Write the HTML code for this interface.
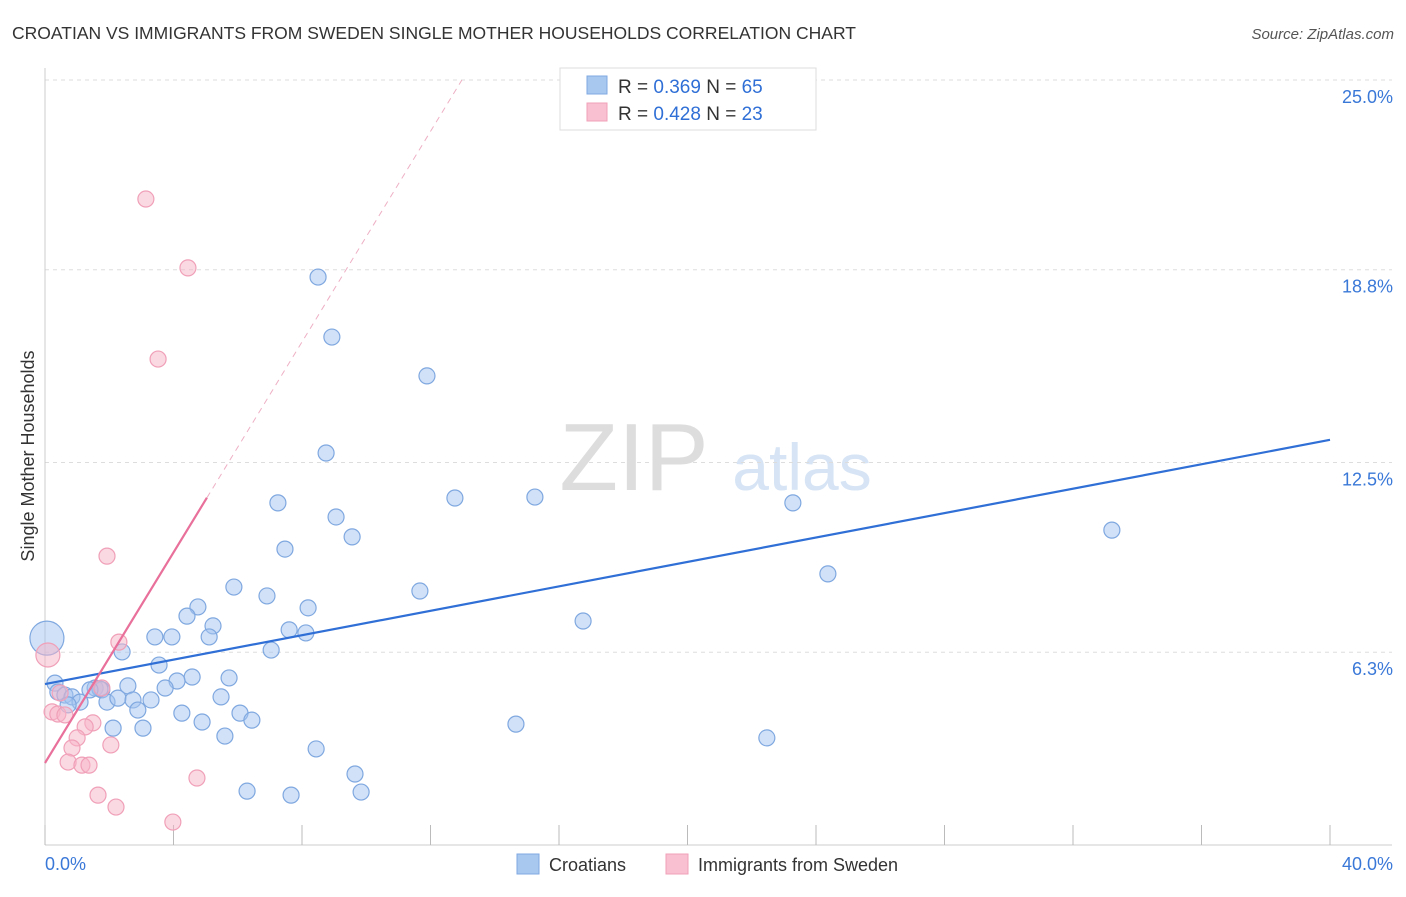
<!DOCTYPE html>
<html><head><meta charset="utf-8"><style>
body{margin:0;background:#fff;font-family:"Liberation Sans",sans-serif}
svg text{font-family:"Liberation Sans",sans-serif}
</style></head><body>
<svg id="chart" width="1406" height="892">
<text x="12" y="39" font-size="17.5" fill="#333">CROATIAN VS IMMIGRANTS FROM SWEDEN SINGLE MOTHER HOUSEHOLDS CORRELATION CHART</text>
<text x="1394" y="39" font-size="15" fill="#555" font-style="italic" text-anchor="end">Source: ZipAtlas.com</text>
<text x="634" y="490" font-size="96" fill="#ddd" font-family="Liberation Serif" text-anchor="middle">ZIP</text>
<text x="802" y="490" font-size="66" fill="#d6e4f5" text-anchor="middle">atlas</text>
<text transform="translate(34,456) rotate(-90)" font-size="18" fill="#333" text-anchor="middle">Single Mother Households</text>
<g id="grid"></g><g id="marks"></g>
<g>
<rect x="560" y="68" width="256" height="62" fill="#fff" stroke="#ddd"/>
<rect x="587" y="76" width="20" height="18" fill="#a9c8f0" stroke="#7fa8e0"/>
<rect x="587" y="103" width="20" height="18" fill="#f8c0d0" stroke="#f0a0b8"/>
<text x="618" y="93" font-size="19" fill="#333">R = <tspan fill="#2f6fd6">0.369</tspan>   N = <tspan fill="#2f6fd6">65</tspan></text>
<text x="618" y="120" font-size="19" fill="#333">R = <tspan fill="#2f6fd6">0.428</tspan>   N = <tspan fill="#2f6fd6">23</tspan></text>
</g>
<g>
<rect x="517" y="854" width="22" height="20" fill="#a9c8f0" stroke="#7fa8e0"/>
<text x="549" y="871" font-size="18" fill="#333">Croatians</text>
<rect x="666" y="854" width="22" height="20" fill="#f8c0d0" stroke="#f0a0b8"/>
<text x="698" y="871" font-size="18" fill="#333">Immigrants from Sweden</text>
</g>
</svg>
<script>
const xTicks=[0,4,8,12,16,20,24,28,32,36,40];
const yTicks=[6.3,12.5,18.8,25.0];
const blueX=[8.50,8.93,11.89,8.75,12.76,15.25,7.25,9.06,9.56,7.47,5.88,6.91,11.67,8.19,4.76,4.42,5.23,7.60,8.12,3.42,3.95,5.11,16.75,7.04,2.40,3.55,4.58,5.73,4.11,0.31,3.74,2.58,1.56,1.77,0.40,0.62,0.84,1.09,0.72,1.93,2.27,2.74,3.30,5.48,2.89,4.26,6.07,4.89,6.44,2.12,3.05,5.60,8.44,9.65,6.29,7.66,9.84,14.66,22.47,23.28,24.37,33.21,1.71,1.40];
const blueY=[18.56,16.60,15.33,12.81,11.34,11.37,11.18,10.72,10.07,9.67,8.43,8.14,8.30,7.75,7.78,7.48,7.16,7.03,6.93,6.80,6.80,6.80,7.32,6.37,6.31,5.88,5.49,5.46,5.36,5.29,5.13,5.20,5.13,5.07,5.00,4.90,4.84,4.67,4.58,4.67,4.80,4.74,4.74,4.84,4.41,4.31,4.31,4.02,4.08,3.82,3.82,3.56,3.14,2.32,1.76,1.63,1.73,3.95,3.50,11.18,8.86,10.29,5.10,5.07];
const pinkX=[3.14,4.45,3.52,1.93,2.30,1.77,0.47,0.22,0.40,0.62,1.49,1.25,1.00,0.84,2.05,0.72,1.15,1.37,1.65,2.21,3.98,4.73];
const pinkY=[21.11,18.86,15.88,9.44,6.63,5.13,4.97,4.35,4.28,4.25,3.99,3.86,3.50,3.17,3.27,2.71,2.61,2.61,1.63,1.24,0.75,2.19];
const bigBlue=[0.06,6.76];
const bigPink=[0.09,6.21];
const blueTrend=[5.26,13.24];
const pinkTrend=[2.68,1.72];
const X=v=>45+v*32.125, Y=v=>845-v*30.6;
const NS="http://www.w3.org/2000/svg";
const grid=document.getElementById('grid'), marks=document.getElementById('marks');
function mk(tag,attrs,parent){const e=document.createElementNS(NS,tag);for(const k in attrs)e.setAttribute(k,attrs[k]);parent.appendChild(e);return e;}
yTicks.forEach(t=>{
  const l=mk('line',{x1:45,x2:1392,y1:Y(t),y2:Y(t),stroke:'#ddd','stroke-dasharray':'4,4'},grid);
  
  
  const tx=mk('text',{x:1393,y:Y(t)+23,'font-size':18,fill:'#3a78d8','text-anchor':'end'},grid);
  tx.textContent=t.toFixed(1)+'%';
  
  
});
const ax=mk('line',{x1:45,x2:45,y1:68,y2:845,stroke:'#ccc'},grid);


const bx=mk('line',{x1:45,x2:1392,y1:845,y2:845,stroke:'#ccc'},grid);


xTicks.forEach(t=>{
  const l=mk('line',{x1:X(t),x2:X(t),y1:825,y2:845,stroke:'#bbb'},grid);
  
  
});
[[0,'0.0%','start',45],[40,'40.0%','end',1393]].forEach(a=>{
  const tx=mk('text',{x:a[3],y:870,'font-size':18,fill:'#3a78d8','text-anchor':a[2]},grid);
  tx.textContent=a[1];
  
  
});
function dot(x,y,r,c){
  const fill=c==='b'?'rgba(164,196,240,0.5)':'rgba(248,180,200,0.5)';
  const st=c==='b'?'#7fa8e0':'#f0a0b8';
  const e=mk('circle',{cx:X(x),cy:Y(y),r:r,fill:fill,stroke:st,'stroke-width':1.2},marks);
  
  
}
dot(bigBlue[0],bigBlue[1],17,'b');
dot(bigPink[0],bigPink[1],12,'p');
blueX.forEach((x,i)=>dot(x,blueY[i],8,'b'));
pinkX.forEach((x,i)=>dot(x,pinkY[i],8,'p'));
const bl=mk('line',{x1:X(0),y1:Y(blueTrend[0]),x2:X(40),y2:Y(blueTrend[1]),stroke:'#2f6fd6','stroke-width':2.2},marks);


const pEnd=5.04, pTop=(25-pinkTrend[0])/pinkTrend[1];
const ps=mk('line',{x1:X(0),y1:Y(pinkTrend[0]),x2:X(pEnd),y2:Y(pinkTrend[0]+pinkTrend[1]*pEnd),stroke:'#e8709a','stroke-width':2.2},marks);


const pd=mk('line',{x1:X(pEnd),y1:Y(pinkTrend[0]+pinkTrend[1]*pEnd),x2:X(pTop),y2:Y(25),stroke:'#eeb0c4','stroke-width':1,'stroke-dasharray':'6,5'},marks);


</script>
</body></html>
